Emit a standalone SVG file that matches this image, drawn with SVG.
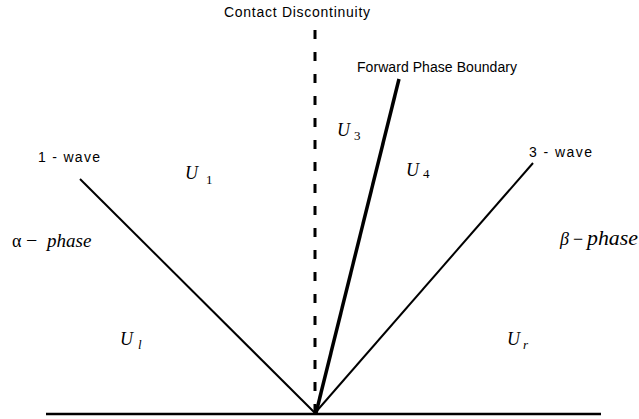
<svg xmlns="http://www.w3.org/2000/svg" width="639" height="419" viewBox="0 0 639 419">
<style>
.lbl{font-family:"Liberation Sans",Arial,sans-serif;font-size:14px;fill:#000}
.m{font-family:"Liberation Serif","Times New Roman",serif;font-size:18px;fill:#000}
.it{font-style:italic}
.sub{font-size:13px;font-style:normal}
.ln{stroke:#000;fill:none}
</style>
<rect width="639" height="419" fill="#fff"/>
<g id="connectors">
<line class="ln" x1="46" y1="414" x2="601" y2="414" stroke-width="2.5"/>
<line class="ln" x1="80" y1="179" x2="315" y2="413" stroke-width="2"/>
<line class="ln" x1="533" y1="163" x2="315" y2="413" stroke-width="2"/>
<line class="ln" x1="315" y1="30" x2="315" y2="413" stroke-width="3" stroke-dasharray="9 13"/>
<line class="ln" x1="399" y1="79" x2="316" y2="413" stroke-width="3.5"/>
</g>
<g id="contact-discontinuity"><text class="lbl" x="224" y="17" textLength="146" lengthAdjust="spacing">Contact Discontinuity</text></g>
<g id="forward-phase-boundary"><text class="lbl" x="357" y="72" textLength="160" lengthAdjust="spacing">Forward Phase Boundary</text></g>
<g id="wave1"><text class="lbl" x="38" y="162" textLength="62" lengthAdjust="spacing">1 - wave</text></g>
<g id="wave3"><text class="lbl" x="529" y="157" textLength="63" lengthAdjust="spacing">3 - wave</text></g>
<g id="alpha"><text class="m" x="12" y="247" font-size="21">α<tspan x="26" font-size="20">−</tspan><tspan class="it" x="47" font-size="19">phase</tspan></text></g>
<g id="beta"><text class="m" x="560" y="245" font-size="20"><tspan class="it">β</tspan><tspan x="573">−</tspan><tspan class="it" x="587" font-size="20" textLength="51" lengthAdjust="spacingAndGlyphs">phase</tspan></text></g>
<g id="U1"><text class="m it" x="185" y="179">U<tspan class="sub" x="206" y="184">1</tspan></text></g>
<g id="U3"><text class="m it" x="337" y="136">U<tspan class="sub" x="354" y="140">3</tspan></text></g>
<g id="U4"><text class="m it" x="406" y="176">U<tspan class="sub" x="423" y="178">4</tspan></text></g>
<g id="Ul"><text class="m it" x="120" y="345">U<tspan class="sub" x="138" y="349" style="font-style:italic">l</tspan></text></g>
<g id="Ur"><text class="m it" x="507" y="345">U<tspan class="sub" x="523" y="349" style="font-style:italic">r</tspan></text></g>
</svg>
